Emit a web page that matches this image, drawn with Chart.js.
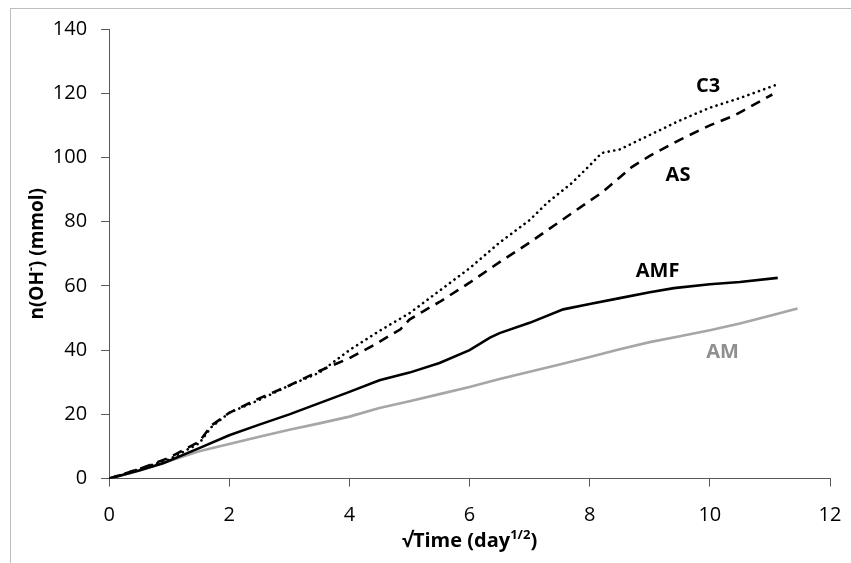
<!DOCTYPE html>
<html>
<head>
<meta charset="utf-8">
<script src="https://cdn.jsdelivr.net/npm/chart.js@4.4.1/dist/chart.umd.min.js"></script>
<style>
  html, body { margin: 0; padding: 0; background: #fff; }
  #wrap { position: relative; width: 851px; height: 563px; overflow: hidden; }
  #frame { position: absolute; left: 10px; top: 8px; width: 900px; height: 600px;
           border-top: 1px solid #bdbdbd; border-left: 1px solid #bdbdbd; box-sizing: border-box; }
  canvas { position: absolute; left: 0; top: 0; }
</style>
</head>
<body>
<div id="wrap">
  <div id="frame"></div>
  <canvas id="c" width="851" height="563"></canvas>
</div>
<script>
// ---- data ----
const c3X  = [0, 0.5, 1.0, 1.5, 1.7, 2.0, 2.5, 3.0, 3.5, 4.0, 4.5, 5.0, 5.5, 6.0, 6.5, 7.0, 7.3, 7.7, 8.0, 8.2, 8.5, 9.0, 9.5, 10.0, 10.5, 11.16];
const c3Y  = [0, 3, 6, 11, 16, 20.5, 24.5, 29, 33, 40, 46, 51.5, 58.5, 65.5, 73.5, 80.5, 86, 92, 97.5, 101.4, 102.5, 107, 111.5, 115.5, 118.5, 123];

const asX  = [0, 0.5, 1.0, 1.5, 1.7, 2.0, 2.5, 3.0, 3.5, 4.0, 4.4, 4.85, 5.0, 5.2, 5.5, 6.0, 6.5, 7.0, 7.5, 8.0, 8.2, 8.7, 9.0, 9.5, 10.0, 10.4, 11.04];
const asY  = [0, 3, 6.5, 11.5, 16.5, 20.5, 25, 29, 33.5, 37.5, 41.5, 46.5, 49.5, 51.8, 55, 61, 67.4, 73.5, 80, 86.5, 89, 97, 100.5, 105.5, 110, 113, 119.6];

const amfX = [0, 0.5, 0.9, 1.5, 2.0, 2.5, 3.0, 3.5, 4.0, 4.5, 5.0, 5.5, 6.0, 6.34, 6.5, 7.0, 7.56, 8.0, 8.5, 9.0, 9.4, 10.0, 10.5, 11.13];
const amfY = [0, 2.5, 4.8, 9.5, 13.5, 16.8, 20, 23.5, 27, 30.6, 33, 36, 40, 43.9, 45.3, 48.5, 52.7, 54.4, 56.2, 58, 59.3, 60.5, 61.2, 62.5];

const amX  = [0, 0.5, 1.0, 1.5, 2.0, 2.5, 3.0, 3.5, 4.0, 4.5, 5.0, 5.5, 6.0, 6.5, 7.0, 7.5, 8.0, 8.5, 9.0, 9.5, 10.0, 10.5, 11.0, 11.46];
const amY  = [0, 2.5, 5.5, 8.5, 10.8, 13, 15.2, 17.2, 19.3, 22, 24.1, 26.3, 28.5, 31, 33.3, 35.5, 37.9, 40.3, 42.5, 44.3, 46.2, 48.3, 50.7, 53];

const xTicks = [0, 2, 4, 6, 8, 10, 12];
const yTicks = [0, 20, 40, 60, 80, 100, 120, 140];

const seriesNames = ['C3', 'AS', 'AMF', 'AM'];
// label anchor points in data units
const labelX = [9.97, 9.47, 9.13, 10.21];
const labelY = [122.2, 94.6, 64.6, 39.2];
const labelColors = ['#000000', '#000000', '#000000', '#8f8f8f'];

function pts(xs, ys) { return xs.map((x, i) => ({ x: x, y: ys[i] })); }

const FONT = "'Open Sans', 'DejaVu Sans', sans-serif";

const labelPlugin = {
  id: 'seriesLabels',
  afterDraw(chart) {
    const ctx = chart.ctx;
    const xs = chart.scales.x, ys = chart.scales.y;
    ctx.save();
    ctx.font = 'bold 20px ' + FONT;
    ctx.textAlign = 'center';
    ctx.textBaseline = 'middle';
    seriesNames.forEach((n, i) => {
      ctx.fillStyle = labelColors[i];
      ctx.fillText(n, xs.getPixelForValue(labelX[i]), ys.getPixelForValue(labelY[i]));
    });

    // X axis title with superscript
    const cx = (chart.chartArea.left + chart.chartArea.right) / 2;
    const by = xs.bottom - 16;
    ctx.textAlign = 'left';
    ctx.textBaseline = 'alphabetic';
    const parts = [
      { t: '√Time (day', f: 'bold 20px ' + FONT, dy: 0 },
      { t: '1/2', f: 'bold 13px ' + FONT, dy: -8 },
      { t: ')', f: 'bold 20px ' + FONT, dy: 0 }
    ];
    let w = 0;
    parts.forEach(p => { ctx.font = p.f; p.w = ctx.measureText(p.t).width; w += p.w; });
    let x0 = cx - w / 2;
    ctx.fillStyle = '#000';
    parts.forEach(p => { ctx.font = p.f; ctx.fillText(p.t, x0, by + p.dy); x0 += p.w; });

    // Y axis title with superscript
    const cy = (chart.chartArea.top + chart.chartArea.bottom) / 2;
    const bx = ys.left + 27;
    ctx.translate(bx, cy);
    ctx.rotate(-Math.PI / 2);
    const yparts = [
      { t: 'n(OH', f: 'bold 19px ' + FONT, dy: 0 },
      { t: '-', f: 'bold 12px ' + FONT, dy: -8 },
      { t: ') (mmol)', f: 'bold 19px ' + FONT, dy: 0 }
    ];
    w = 0;
    yparts.forEach(p => { ctx.font = p.f; p.w = ctx.measureText(p.t).width; w += p.w; });
    x0 = -w / 2;
    yparts.forEach(p => { ctx.font = p.f; ctx.fillText(p.t, x0, p.dy); x0 += p.w; });
    ctx.restore();
  }
};

new Chart(document.getElementById('c'), {
  type: 'line',
  data: {
    datasets: [
      { label: 'C3', data: pts(c3X, c3Y), borderColor: '#000', borderWidth: 2.6,
        borderDash: [0.1, 5.5], borderCapStyle: 'round' },
      { label: 'AS', data: pts(asX, asY), borderColor: '#000', borderWidth: 2.6,
        borderDash: [10, 7], borderCapStyle: 'butt' },
      { label: 'AMF', data: pts(amfX, amfY), borderColor: '#000', borderWidth: 2.6 },
      { label: 'AM', data: pts(amX, amY), borderColor: '#a6a6a6', borderWidth: 2.6 }
    ]
  },
  options: {
    responsive: false,
    animation: false,
    parsing: true,
    elements: { point: { radius: 0 }, line: { tension: 0, fill: false } },
    layout: { padding: { left: 16, right: 2, top: 29, bottom: 0 } },
    plugins: { legend: { display: false }, tooltip: { enabled: false } },
    scales: {
      x: {
        type: 'linear', min: 0, max: 12,
        afterBuildTicks: s => { s.ticks = xTicks.map(v => ({ value: v })); },
        afterFit: s => { s.paddingRight = 21; },
        border: { display: true, color: '#595959', width: 1 },
        grid: { display: true, drawOnChartArea: false, drawTicks: true, tickLength: 8, color: '#595959' },
        ticks: { color: '#000', font: { family: FONT, size: 20 }, padding: 17, maxRotation: 0 },
        title: { display: true, text: 'X', color: 'rgba(0,0,0,0)', font: { family: FONT, size: 12, weight: 'bold' }, padding: { top: 4, bottom: 0 } }
      },
      y: {
        type: 'linear', min: 0, max: 140,
        afterBuildTicks: s => { s.ticks = yTicks.map(v => ({ value: v })); },
        border: { display: true, color: '#595959', width: 1 },
        grid: { display: true, drawOnChartArea: false, drawTicks: true, tickLength: 8, color: '#595959' },
        ticks: { color: '#000', font: { family: FONT, size: 20 }, padding: 14 },
        title: { display: true, text: 'X', color: 'rgba(0,0,0,0)', font: { family: FONT, size: 19, weight: 'bold' }, padding: { top: 0, bottom: 0 } }
      }
    }
  },
  plugins: [labelPlugin]
});
</script>
</body>
</html>
